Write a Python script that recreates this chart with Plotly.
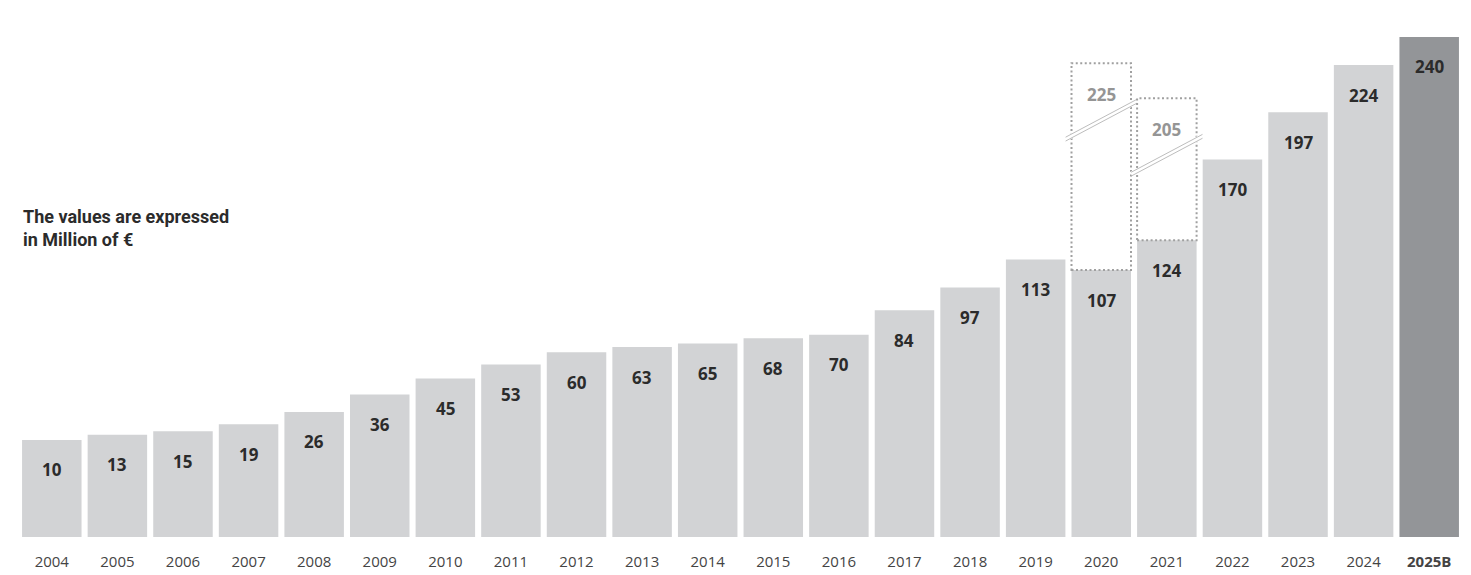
import plotly.graph_objects as go

# ---- data ----
years = ["2004", "2005", "2006", "2007", "2008", "2009", "2010", "2011", "2012", "2013", "2014",
         "2015", "2016", "2017", "2018", "2019", "2020", "2021", "2022", "2023", "2024", "2025B"]
values = [10, 13, 15, 19, 26, 36, 45, 53, 60, 63, 65, 68, 70, 84, 97, 113, 107, 124, 170, 197, 224, 240]
tick_labels = ["2004", "2005", "2006", "2007", "2008", "2009", "2010", "2011", "2012", "2013", "2014",
               "2015", "2016", "2017", "2018", "2019", "2020", "2021", "2022", "2023", "2024", "<b>2025B</b>"]
highlight_year = "2025B"
# values expected before the drop (shown as dotted outlines)
expected_years = ["2020", "2021"]
expected_values = [225, 205]
note_lines = ["The values are expressed", "in Million of €"]

# ---- style ----
BASE = -45.4          # visual baseline offset of the bars (axis units)
BARGAP = 0.093
LIGHT = "#d2d3d5"
DARK = "#939598"
TXT = "#2b2b2b"
GREY_TXT = "#959595"
NUM_FONT = "Open Sans"

idx = list(range(len(years)))
colors = [DARK if y == highlight_year else LIGHT for y in years]

fig = go.Figure()
fig.add_trace(go.Bar(
    x=idx,
    y=[v - BASE for v in values],
    base=BASE,
    marker=dict(color=colors, line=dict(width=0)),
    hoverinfo="skip",
))

annotations = []
for i, v in zip(idx, values):
    annotations.append(dict(
        x=i, y=v, xref="x", yref="y", text=str(v), showarrow=False,
        yanchor="middle", yshift=-30,
        font=dict(family=NUM_FONT, size=17, color=TXT, weight="bold"),
    ))

half = (1 - BARGAP) / 2
shapes = []
for ey, ev in zip(expected_years, expected_values):
    i = years.index(ey)
    v = values[i]
    shapes.append(dict(
        type="rect", xref="x", yref="y", x0=i - half, x1=i + half, y0=v, y1=ev,
        line=dict(color="#a0a0a0", width=2, dash="2px,2.5px"), fillcolor="rgba(0,0,0,0)",
    ))
    # break mark
    c = ev - 32.5
    xa, xb = i - half - 0.09, i + half + 0.09
    dy = 10.8
    shapes.append(dict(type="line", xref="x", yref="y", x0=xa, x1=xb, y0=c - dy, y1=c + dy,
                       line=dict(color="white", width=5)))
    for off in (-1.1, 1.1):
        shapes.append(dict(type="line", xref="x", yref="y", x0=xa, x1=xb,
                           y0=c - dy + off, y1=c + dy + off,
                           line=dict(color="#bdbdbd", width=1)))
    annotations.append(dict(
        x=i, y=ev, xref="x", yref="y", text=str(ev), showarrow=False,
        yanchor="middle", yshift=-31,
        font=dict(family=NUM_FONT, size=17, color=GREY_TXT, weight="bold"),
    ))

annotations.append(dict(
    x=0, y=0.581, xref="paper", yref="paper", xanchor="left", yanchor="middle", xshift=2,
    align="left", showarrow=False,
    text="<br>".join(note_lines),
    font=dict(family="Roboto", size=18, color=TXT, weight="bold"),
))

fig.update_layout(
    width=1471, height=575,
    margin=dict(l=19, r=9, t=5, b=38),
    paper_bgcolor="white", plot_bgcolor="white",
    bargap=BARGAP,
    showlegend=False,
    annotations=annotations,
    shapes=shapes,
    xaxis=dict(
        type="linear", range=[-0.5, len(years) - 0.5], tickvals=idx, ticktext=tick_labels,
        showgrid=False, zeroline=False, showline=False, ticks="", automargin=False,
        ticklabelstandoff=14,
        tickfont=dict(family=NUM_FONT, size=15, color="#444444"),
    ),
    yaxis=dict(
        range=[BASE, 532 / 1.752 + BASE], visible=False, showgrid=False, zeroline=False,
        automargin=False,
    ),
)

fig.write_html("out.html")
